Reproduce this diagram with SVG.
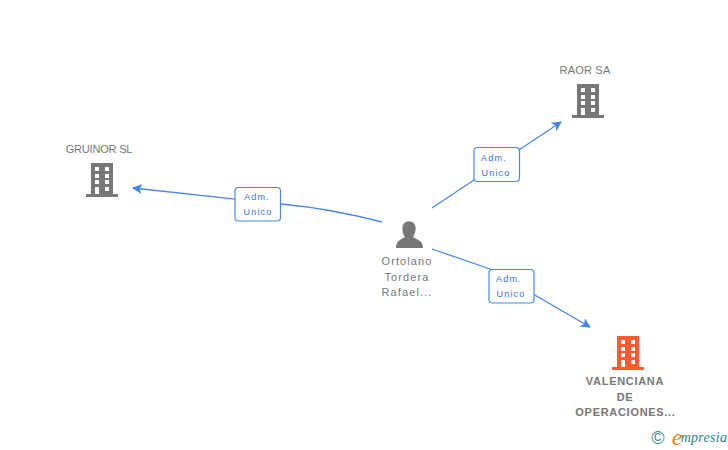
<svg xmlns="http://www.w3.org/2000/svg" width="728" height="450" viewBox="0 0 728 450">
<style>
text{font-family:"Liberation Sans",Arial,sans-serif;font-size:11px;fill:#777;text-anchor:middle}
.n{letter-spacing:1.1px}
.b{font-weight:bold;letter-spacing:.7px}
.e{fill:none;stroke:#4a89e4;stroke-width:1.3}
.lb{fill:#fff;stroke:#4a89e4;stroke-width:1.2}
.lt{font-size:9px;fill:#2f74e0;letter-spacing:1.2px}
</style>
<defs>
<marker id="a" markerUnits="userSpaceOnUse" markerWidth="11" markerHeight="11" refX="9" refY="5" orient="auto"><path d="M0 0L10 5L0 10L2.500 5Z" fill="#3f85e6"/></marker>
<g id="bld"><path d="M-11 -17H11V14H16V17H-16V14H-11ZM-7 -13V-9H-3V-13ZM3 -13V-9H7V-13ZM-7 -6V-2H-3V-6ZM3 -6V-2H7V-6ZM-7 0V4H-3V0ZM3 0V4H7V0ZM-7 7V14H-3V7ZM3 7V11H7V7Z" fill-rule="evenodd"/></g>
</defs>
<rect width="728" height="450" fill="#fff"/>
<g id="connectors">
<path class="e" d="M382 222C355 215 325 208 281 204L133 188" marker-end="url(#a)"/>
<path class="e" d="M432 208L561 122" marker-end="url(#a)"/>
<path class="e" d="M432 249L490 269L590 327" marker-end="url(#a)"/>
</g>
<g id="label-gruinor"><rect class="lb" x="235" y="187.500" width="45.500" height="33.500" rx="3.500"/><text class="lt" x="257" y="200">Adm.</text><text class="lt" x="258" y="215">Unico</text></g>
<g id="label-raor"><rect class="lb" x="474" y="147.500" width="45.500" height="34" rx="3.500"/><text class="lt" x="494" y="161">Adm.</text><text class="lt" x="496" y="176">Unico</text></g>
<g id="label-valenciana"><rect class="lb" x="489" y="269.500" width="45" height="33.500" rx="3.500"/><text class="lt" x="509" y="282">Adm.</text><text class="lt" x="511" y="297">Unico</text></g>
<g id="node-gruinor"><text x="99" y="153" style="letter-spacing:-.2px">GRUINOR SL</text><use href="#bld" x="102" y="180" fill="#777"/></g>
<g id="node-raor"><text x="585" y="74" style="letter-spacing:.2px">RAOR SA</text><use href="#bld" x="588" y="101" fill="#777"/></g>
<g id="node-person"><path d="M396 248C396 241 400 240 405 237C402 233 402 227 403 225C405 220 413 220 415 225C416 227 416 233 413 237C418 240 423 241 423 248Z" fill="#777"/><text class="n" x="407" y="265">Ortolano</text><text class="n" x="407" y="281">Tordera</text><text class="n" x="407" y="296">Rafael...</text></g>
<g id="node-valenciana"><use href="#bld" x="628" y="353" fill="#ff5a2e"/><text class="b" x="625" y="385">VALENCIANA</text><text class="b" x="625" y="400.500">DE</text><text class="b" x="625.500" y="415.500">OPERACIONES...</text></g>
<g id="watermark"><text x="658" y="444" style="font-size:18px;fill:#3e8a96">©</text><text x="677" y="445" style="font-family:'Liberation Serif',serif;font-style:italic;font-size:24px;fill:#e8811f">e</text><text x="704" y="442" style="font-family:'Liberation Serif',serif;font-style:italic;font-size:14px;fill:#2c7f8c;letter-spacing:.3px">mpresia</text></g>
</svg>
